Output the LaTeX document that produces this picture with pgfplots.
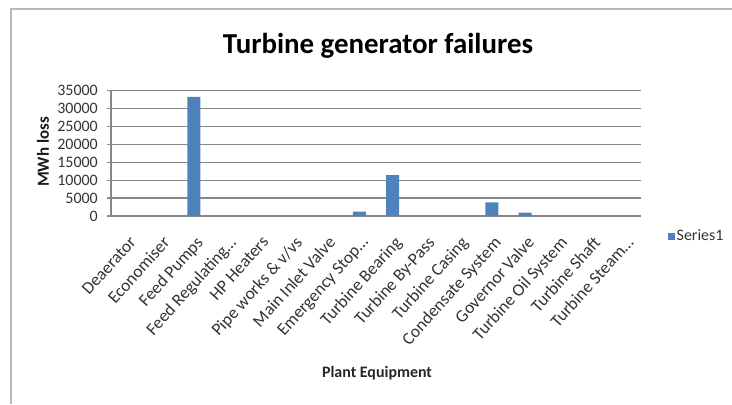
\documentclass[border=0pt]{standalone}
\usepackage{pgfplots}
\pgfplotsset{compat=1.18}
\usepackage{fontspec}
\setmainfont{Carlito}
\definecolor{barblue}{HTML}{4F81BD}
\definecolor{gridgray}{HTML}{878787}
\definecolor{txt}{HTML}{333333}
\begin{document}
\begin{tikzpicture}[x=1bp,y=1bp]
\path[use as bounding box] (0,0) rectangle (732,404);
\draw[gray!55, line width=1.2bp] (11,0) -- (11,395) -- (732,395);
\node[font=\fontsize{29}{31}\selectfont\bfseries] at (378,358) {Turbine generator failures};
\begin{axis}[
  at={(111bp,188bp)}, anchor=south west, scale only axis,
  width=530bp, height=125.3bp,
  ybar, bar width=13bp,
  xmin=-0.5, xmax=15.5, ymin=0, ymax=35000,
  ytick={0,5000,...,35000},
  xtick={0,...,15},
  xticklabels={Deaerator,Economiser,Feed Pumps,Feed Regulating…,HP Heaters,Pipe works \& v/vs,Main Inlet Valve,Emergency Stop…,Turbine Bearing,Turbine By-Pass,Turbine Casing,Condensate System,Governor Valve,Turbine Oil System,Turbine Shaft,Turbine Steam…},
  ymajorgrids, grid style={gridgray, line width=1.4bp},
  axis x line*=bottom, axis y line*=left,
  axis line style={gridgray, line width=1.4bp},
  x axis line style={-}, y axis line style={-},
  xtick style={draw=none},
  ytick style={gridgray, line width=1.4bp},
  tick align=outside, major tick length=4bp,
  scaled y ticks=false,
  /pgf/number format/1000 sep={},
  /pgf/number format/assume math mode=true,
  yticklabel style={font=\fontsize{16}{16}\selectfont, text=txt, inner sep=0pt, xshift=-9bp},
  xticklabel style={font=\fontsize{17.5}{17.5}\selectfont, text=txt, inner sep=0pt, anchor=north east, xshift=1bp, yshift=-15bp, rotate=48},
  legend style={at={(1.05,-0.16)}, anchor=west, draw=none, fill=none, font=\fontsize{16}{16}\selectfont, text=txt, inner sep=0pt},
  legend image code/.code={\fill[barblue] (0bp,-3.5bp) rectangle (7bp,3.5bp);},
]
\addplot[fill=barblue, draw=none] coordinates {(2,33300) (7,1250) (8,11400) (11,3800) (12,950)};
\addlegendentry{Series1}
\end{axis}
\node[font=\fontsize{17}{17}\selectfont\bfseries, rotate=90, text=black!90] at (43,252) {MWh loss};
\node[font=\fontsize{16}{16}\selectfont\bfseries, text=black!85] at (377,31) {Plant Equipment};
\end{tikzpicture}
\end{document}
